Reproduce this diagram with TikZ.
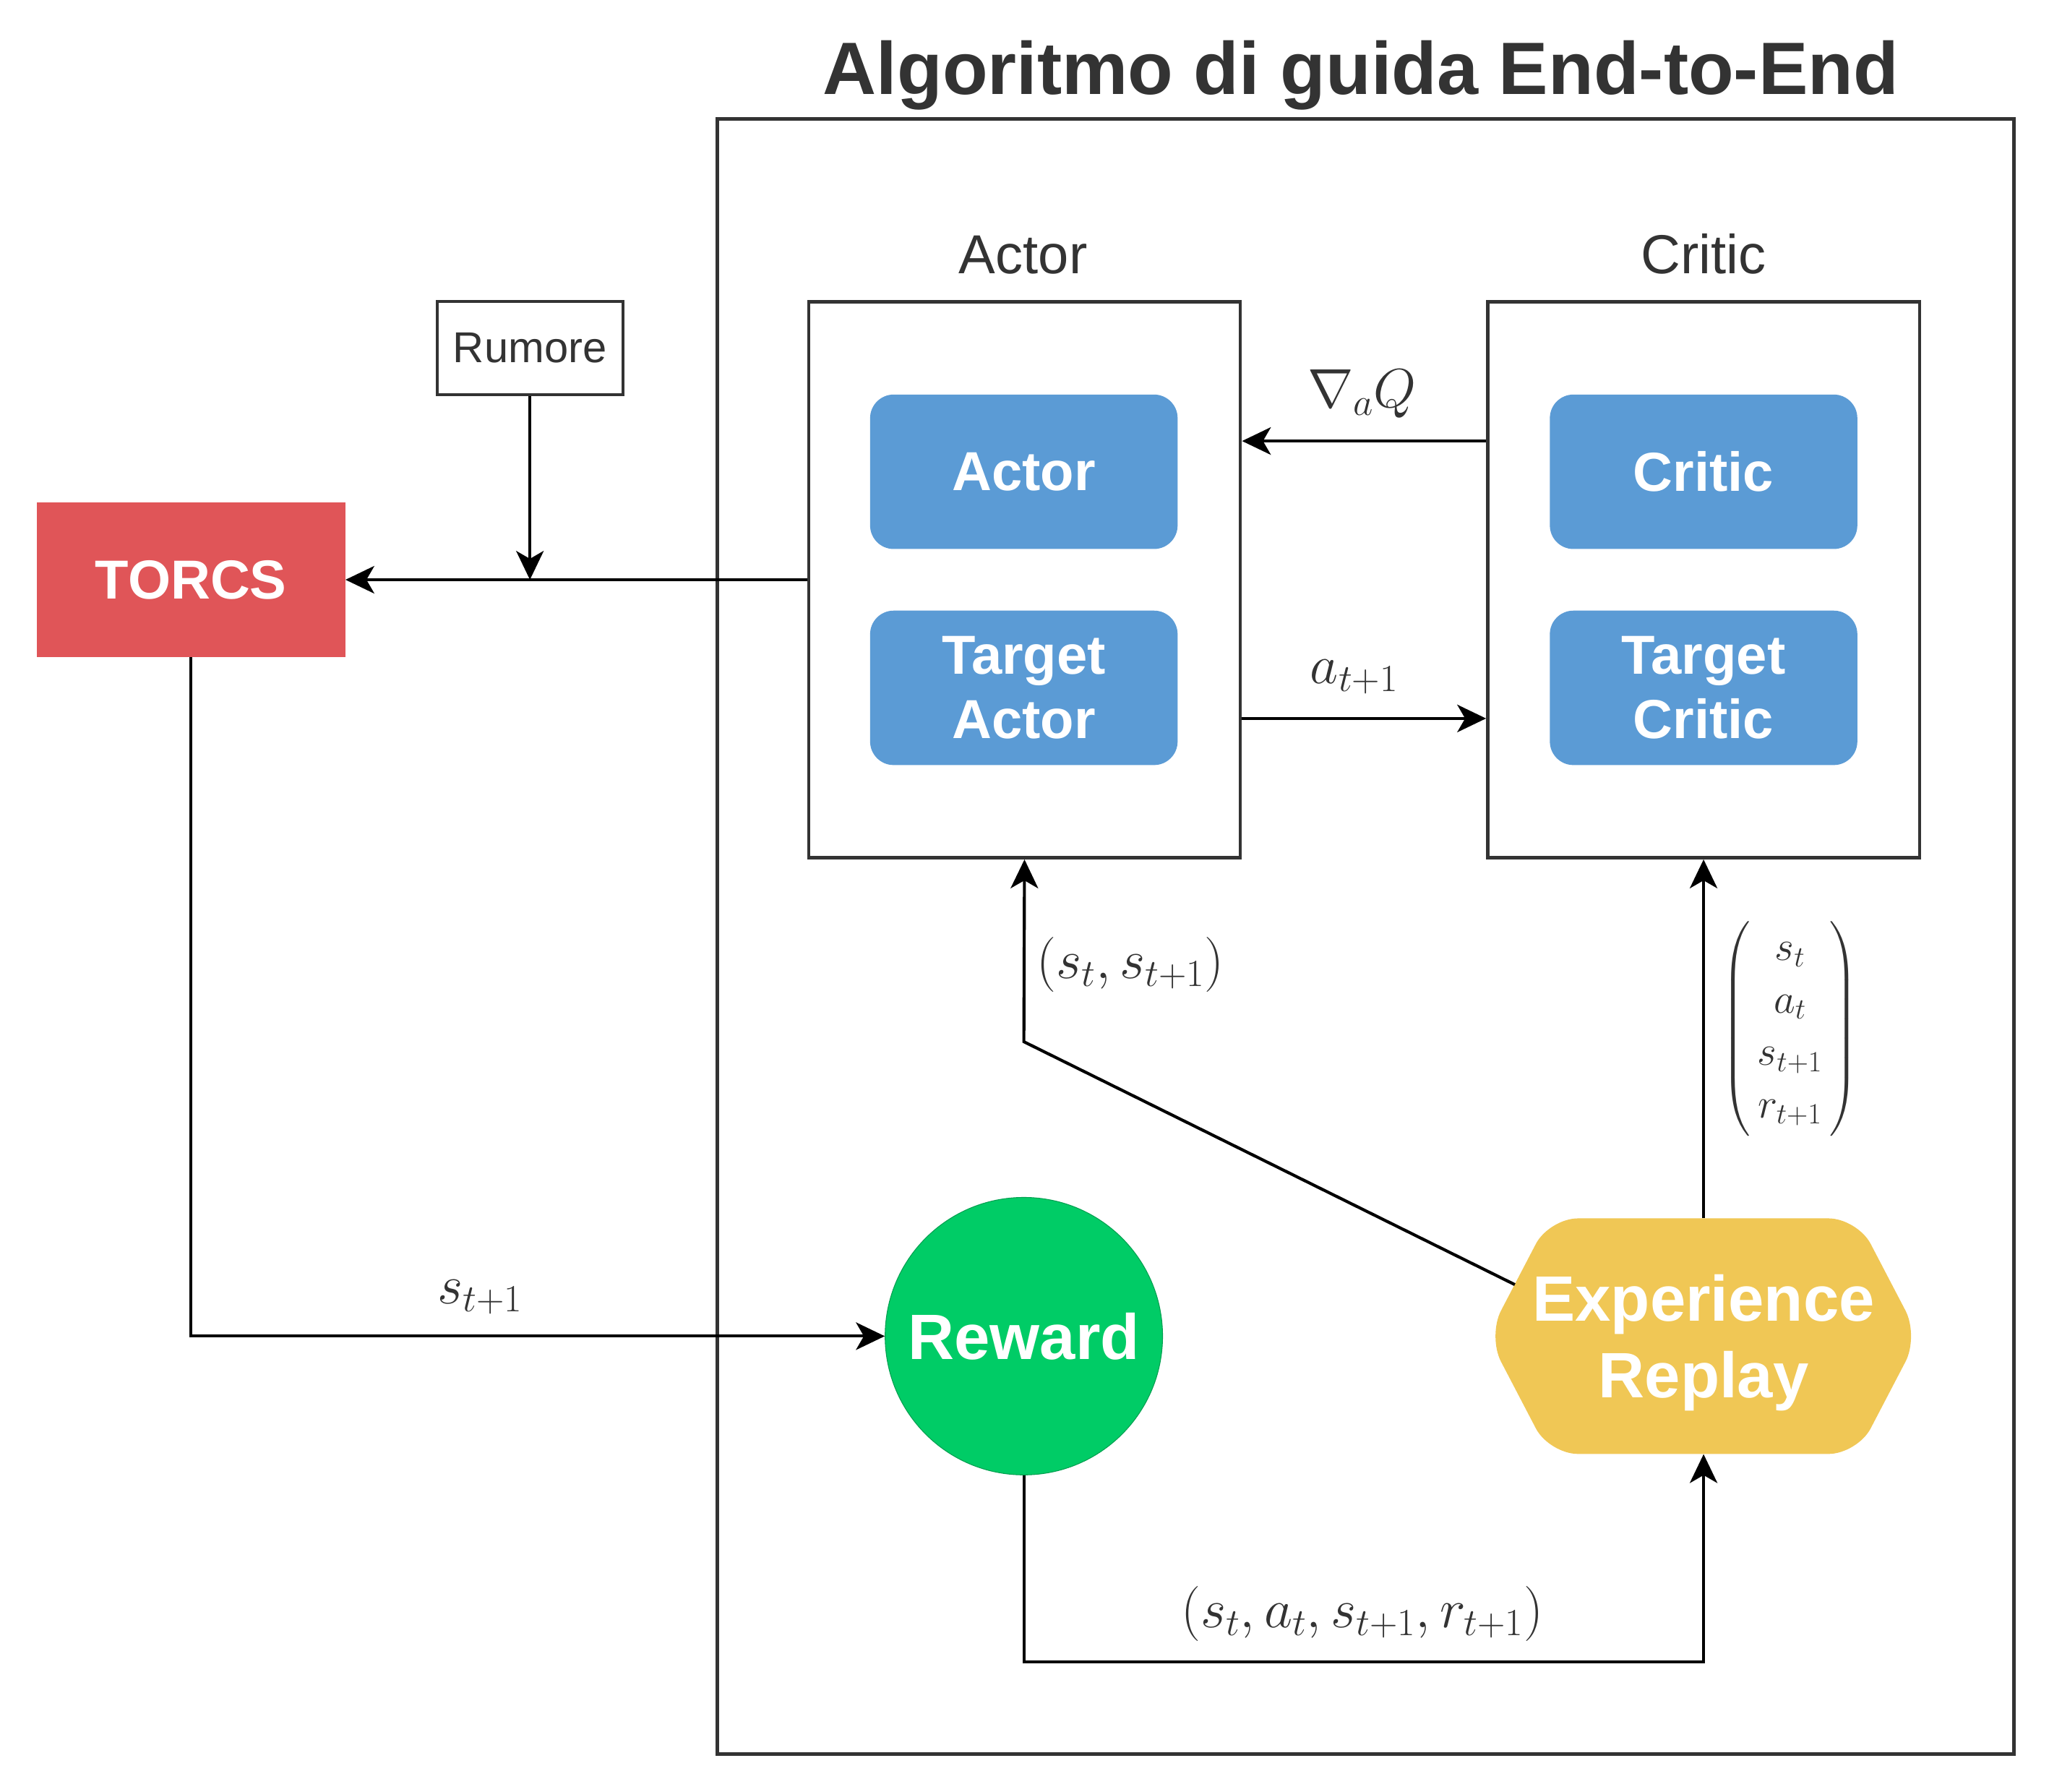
\RequirePackage{fix-cm}
\documentclass[tikz,border=0pt]{standalone}
\usepackage{amsmath}
\usepackage[no-math]{fontspec}
\setmainfont{Liberation Sans}
\usetikzlibrary{arrows.meta,calc}
\definecolor{dg}{HTML}{333333}
\definecolor{bluebox}{HTML}{5B9BD5}
\definecolor{redbox}{HTML}{E05558}
\definecolor{greenc}{HTML}{00CC66}
\definecolor{yellowh}{HTML}{F0C755}
\tikzset{
  frame/.style={draw=dg, line width=2.5pt, fill=white, minimum width=330pt, minimum height=425pt, inner sep=0pt},
  nn/.style={fill=bluebox, rounded corners=18pt, minimum width=235pt, minimum height=118pt, text=white,
    font=\fontsize{42}{49}\selectfont\bfseries, align=center, inner sep=0pt},
  arr/.style={draw=black, line width=2.3pt, -{Stealth[length=22pt,width=21pt,inset=6pt]}},
  mathlbl/.style={text=dg, font=\fontsize{42}{50}\selectfont, inner sep=0pt},
  hdr/.style={text=dg, font=\fontsize{42}{50}\selectfont, inner sep=0pt, anchor=base},
}
\begin{document}
\begin{tikzpicture}[x=1pt, y=-1pt]
\useasboundingbox (0,0) rectangle (1566,1369);

% title and outer frame
\node[font=\fontsize{56.7}{68}\selectfont\bfseries, text=dg, anchor=base, inner sep=0pt] (title) at (1040,72) {Algoritmo di guida End-to-End};
\node[draw=dg, line width=2.5pt, minimum width=991pt, minimum height=1249.4pt, inner sep=0pt, anchor=north west] (algo) at (547,89.6) {};

% headers
\node[hdr] (hactor) at (782,209) {Actor};
\node[hdr] (hcritic) at (1302,209) {Critic};

% frames
\node[frame] (actorbox) at (783,443) {};
\node[frame] (criticbox) at (1302,443) {};

% networks
\node[nn] (actor) at (782.5,360.5) {Actor};
\node[nn] (tactor) at (782.5,525.6) {Target\\Actor};
\node[nn] (critic) at (1302,360.5) {Critic};
\node[nn] (tcritic) at (1302,525.6) {Target\\Critic};

% environment and noise
\node[draw=dg, line width=2.2pt, minimum width=142pt, minimum height=71pt, inner sep=0pt, text=dg,
      font=\fontsize{33}{40}\selectfont] (rumore) at (405,266) {Rumore};
\node[fill=redbox, minimum width=235.7pt, minimum height=118pt, inner sep=0pt, text=white,
      font=\fontsize{42}{50}\selectfont\bfseries] (torcs) at (146,443) {TORCS};

% reward
\node[circle, fill=greenc, draw={rgb,255:red,0;green,160;blue,80}, line width=0.6pt, minimum size=212pt, inner sep=0pt,
      text=white, font=\fontsize{49}{59}\selectfont\bfseries] (reward) at (782.5,1021) {Reward};

% experience replay (hexagon)
\fill[yellowh, rounded corners=22pt] (1302,931) -- (1419.5,931) -- (1466.5,1021) -- (1419.5,1111)
  -- (1184,1111) -- (1137,1021) -- (1184,931) -- cycle;
\node[minimum width=330pt, minimum height=180pt, inner sep=0pt, text=white, align=center, text depth=0pt,
      font=\fontsize{49}{59}\selectfont\bfseries] (exp) at (1302,1021) {Experience\\Replay};

% coordinates for connectors
\coordinate (hexpt) at (1157.7,981.6);
\coordinate (bend) at (782.5,796);
\coordinate (bot) at (1302,1270);

% connectors
\draw[arr] (actorbox.west) -- (torcs.east);
\draw[arr] (rumore.south) -- (rumore.south |- torcs.east);
\draw[arr] ([yshift=106pt]criticbox.west) -- ([yshift=106pt]actorbox.east);
\draw[arr] ([yshift=-106pt]actorbox.east) -- ([yshift=-106pt]criticbox.west);
\draw[arr] (torcs.south) |- (reward.west);
\draw[arr] (reward.south) |- (bot) -- (exp.south);
\draw[arr] (exp.north) -- (criticbox.south);
\draw[arr] (hexpt) -- (bend) -- (actorbox.south);

% labels
\node[mathlbl, anchor=base] (lgrad) at (1041,311) {$\nabla_a Q$};
\node[mathlbl, anchor=base] (lat) at (1035,522) {$a_{t+1}$};
\node[mathlbl, anchor=base] (lst) at (367,996) {$s_{t+1}$};
\node[mathlbl] (lss) at (864,737) {$(s_t, s_{t+1})$};
\node[mathlbl] (ltuple) at (1041,1233) {$(s_t, a_t, s_{t+1}, r_{t+1})$};
\node[text=dg, font=\fontsize{32}{40}\selectfont, inner sep=0pt] (lmat) at (1368,786)
  {$\left(\,\begin{matrix} s_t\\ a_t\\ s_{t+1}\\ r_{t+1}\end{matrix}\,\right)$};
\end{tikzpicture}
\end{document}
